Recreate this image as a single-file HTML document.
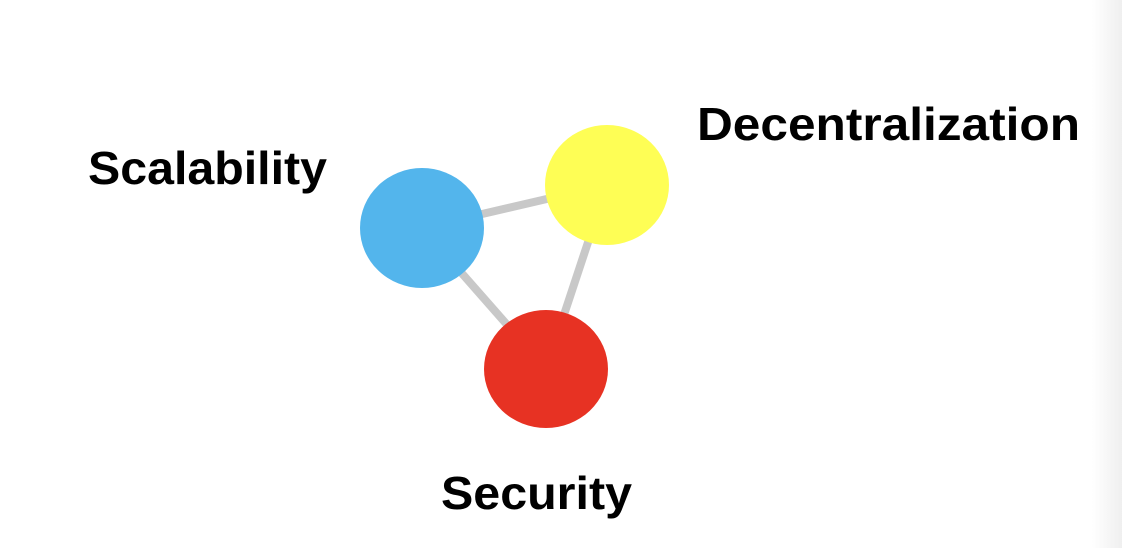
<!DOCTYPE html>
<html><head><meta charset="utf-8"><style>
html,body{margin:0;padding:0;background:#fff;}
body{width:1122px;height:548px;overflow:hidden;position:relative;}
.edge{position:absolute;right:0;top:0;width:30px;height:548px;background:linear-gradient(to right,#fff,#efefef);}
</style></head><body>
<div class="edge"></div>
<svg width="1122" height="548" style="position:absolute;left:0;top:0">
<g stroke="#c8c8c8" stroke-width="8">
<line x1="422" y1="228" x2="607" y2="185"/>
<line x1="422" y1="228" x2="546" y2="369"/>
<line x1="607" y1="185" x2="546" y2="369"/>
</g>
<ellipse cx="422" cy="228" rx="62" ry="60" fill="#53b5ec"/>
<ellipse cx="607" cy="185" rx="62" ry="60" fill="#fefe55"/>
<ellipse cx="546" cy="369" rx="62" ry="59" fill="#e73223"/>
<g font-family="Liberation Sans, sans-serif" font-weight="bold" font-size="46" fill="#000">
<text x="88" y="184" textLength="239" lengthAdjust="spacingAndGlyphs">Scalability</text>
<text x="697" y="140" textLength="383" lengthAdjust="spacingAndGlyphs">Decentralization</text>
<text x="441" y="509" textLength="191" lengthAdjust="spacingAndGlyphs">Security</text>
</g>
</svg>
</body></html>
